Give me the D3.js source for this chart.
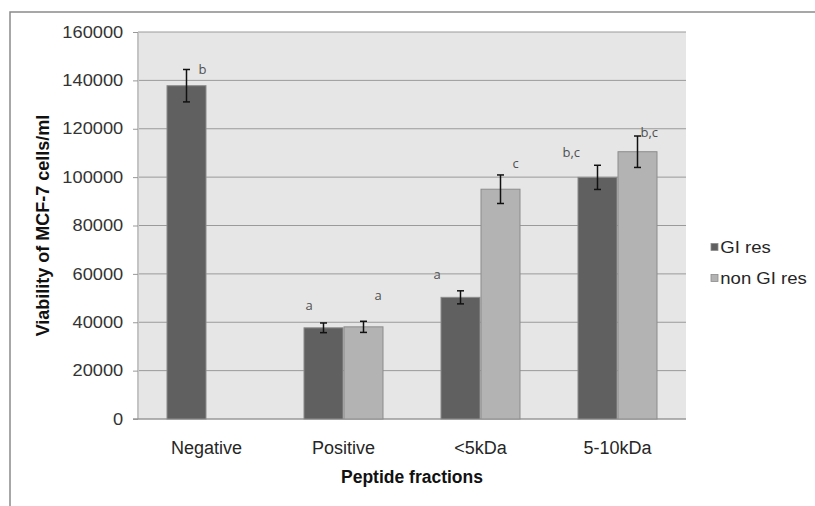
<!DOCTYPE html>
<html>
<head>
<meta charset="utf-8">
<script src="https://cdn.jsdelivr.net/npm/d3@7"></script>
<style>
  body { margin: 0; background: #fff; }
  text { font-family: "Liberation Sans", Arial, sans-serif; }
</style>
</head>
<body>
<svg width="815" height="506"></svg>
<script>
// Data
var categories = ["Negative", "Positive", "<5kDa", "5-10kDa"];
var series = ["GI res", "non GI res"];
var giValues = [137800, 37700, 50300, 99900];
var giErrors = [6700, 2000, 2700, 5000];
var nonGiValues = [null, 38100, 95000, 110500];
var nonGiErrors = [null, 2300, 5900, 6500];
var giLetters = ["b", "a", "a", "b,c"];
var nonGiLetters = [null, "a", "c", "b,c"];
var yTicks = [0, 20000, 40000, 60000, 80000, 100000, 120000, 140000, 160000];

// letter nudges (px from error bar top / bar centre)
var giNudge = [[12, 5], [-18, -13], [-27, -12], [-35, -8]];
var nonGiNudge = [null, [11, -21], [12, -7], [3, 1]];

var colors = { "GI res": "#606060", "non GI res": "#b3b3b3" };

var svg = d3.select("svg");
var margin = { left: 138, right: 686, top: 32, bottom: 419 };

// outer frame
svg.append("rect")
  .attr("x", 10).attr("y", 12)
  .attr("width", 900).attr("height", 600)
  .attr("fill", "none").attr("stroke", "#8a8a8a").attr("stroke-width", 1.5);

var y = d3.scaleLinear().domain([0, 160000]).range([margin.bottom, margin.top]);
var x0 = d3.scaleBand().domain(categories).range([margin.left, margin.right])
  .paddingInner(0.416).paddingOuter(0.208);
var x1 = d3.scaleBand().domain(series).range([0, x0.bandwidth()]);

// plot background
svg.append("rect")
  .attr("x", margin.left).attr("y", margin.top)
  .attr("width", margin.right - margin.left).attr("height", margin.bottom - margin.top)
  .attr("fill", "#e6e6e6");

// gridlines
svg.append("g")
  .selectAll("line")
  .data(yTicks.slice(1))
  .enter()
  .append("line")
  .attr("x1", margin.left).attr("x2", margin.right)
  .attr("y1", function (d) { return y(d); })
  .attr("y2", function (d) { return y(d); })
  .attr("stroke", "#9a9a9a").attr("stroke-width", 1);

// left wall edge
svg.append("line")
  .attr("x1", margin.left).attr("x2", margin.left)
  .attr("y1", margin.top).attr("y2", margin.bottom)
  .attr("stroke", "#c4c4c4").attr("stroke-width", 2);

// y axis
var yAxis = svg.append("g")
  .attr("transform", "translate(" + margin.left + ",0)")
  .call(d3.axisLeft(y).tickValues(yTicks).tickSize(5).tickPadding(8).tickFormat(d3.format("d")));
yAxis.select(".domain").remove();
yAxis.selectAll(".tick line").attr("stroke", "#999");
yAxis.selectAll(".tick text")
  .attr("fill", "#333")
  .style("font-size", "16px")
  .attr("transform", "scale(1.14,1)");

// x axis baseline
svg.append("line")
  .attr("x1", margin.left - 5).attr("x2", margin.right)
  .attr("y1", y(0)).attr("y2", y(0))
  .attr("stroke", "#999").attr("stroke-width", 1.5);

// bars
var rows = [];
categories.forEach(function (c, i) {
  rows.push({ cat: c, s: series[0], v: giValues[i], e: giErrors[i], l: giLetters[i], n: giNudge[i] });
  rows.push({ cat: c, s: series[1], v: nonGiValues[i], e: nonGiErrors[i], l: nonGiLetters[i], n: nonGiNudge[i] });
});
rows = rows.filter(function (d) { return d.v != null; });

var bars = svg.append("g")
  .selectAll("g")
  .data(rows)
  .enter()
  .append("g")
  .attr("transform", function (d) { return "translate(" + (x0(d.cat) + x1(d.s)) + ",0)"; });

bars.append("rect")
  .attr("x", 0.5)
  .attr("width", x1.bandwidth() - 1)
  .attr("y", function (d) { return y(d.v); })
  .attr("height", function (d) { return y(0) - y(d.v); })
  .attr("fill", function (d) { return colors[d.s]; })
  .attr("stroke", "#8c8c8c").attr("stroke-width", 1);

// error bars
var cx = x1.bandwidth() / 2;
bars.append("line")
  .attr("x1", cx).attr("x2", cx)
  .attr("y1", function (d) { return y(d.v + d.e); })
  .attr("y2", function (d) { return y(d.v - d.e); })
  .attr("stroke", "#111").attr("stroke-width", 1.5);
bars.append("line")
  .attr("x1", cx - 3.5).attr("x2", cx + 3.5)
  .attr("y1", function (d) { return y(d.v + d.e); })
  .attr("y2", function (d) { return y(d.v + d.e); })
  .attr("stroke", "#111").attr("stroke-width", 1.5);
bars.append("line")
  .attr("x1", cx - 3.5).attr("x2", cx + 3.5)
  .attr("y1", function (d) { return y(d.v - d.e); })
  .attr("y2", function (d) { return y(d.v - d.e); })
  .attr("stroke", "#111").attr("stroke-width", 1.5);

// significance letters
bars.append("text")
  .attr("x", function (d) { return cx + d.n[0]; })
  .attr("y", function (d) { return y(d.v + d.e) + d.n[1]; })
  .style("font-family", "'Open Sans', sans-serif")
  .style("font-size", "13px")
  .attr("fill", "#505050")
  .text(function (d) { return d.l; });

// category labels
svg.append("g")
  .selectAll("text")
  .data(categories)
  .enter()
  .append("text")
  .attr("x", function (d) { return x0(d) + x0.bandwidth() / 2; })
  .attr("y", 454)
  .attr("text-anchor", "middle")
  .attr("fill", "#262626")
  .style("font-size", "18px")
  .text(function (d) { return d; });

// axis titles
svg.append("text")
  .attr("x", (margin.left + margin.right) / 2)
  .attr("y", 483)
  .attr("text-anchor", "middle")
  .style("font-size", "17.5px").style("font-weight", "bold")
  .attr("fill", "#111")
  .text("Peptide fractions");

svg.append("text")
  .attr("transform", "translate(49," + (margin.top + margin.bottom) / 2 + ") rotate(-90)")
  .attr("text-anchor", "middle")
  .style("font-size", "18px").style("font-weight", "bold")
  .attr("fill", "#111")
  .text("Viability of MCF-7 cells/ml");

// legend
var legend = svg.append("g").attr("transform", "translate(711,247)");
var li = legend.selectAll("g")
  .data(series)
  .enter()
  .append("g")
  .attr("transform", function (d, i) { return "translate(0," + i * 31 + ")"; });
li.append("rect")
  .attr("x", 0).attr("y", -3.5).attr("width", 7).attr("height", 7)
  .attr("fill", function (d) { return colors[d]; })
  .attr("stroke", "#8c8c8c").attr("stroke-width", 0.8);
li.append("text")
  .attr("x", 8).attr("y", 5.5)
  .attr("fill", "#262626")
  .style("font-size", "16px")
  .attr("transform", "scale(1.16,1)")
  .text(function (d) { return d; });
</script>
</body>
</html>
